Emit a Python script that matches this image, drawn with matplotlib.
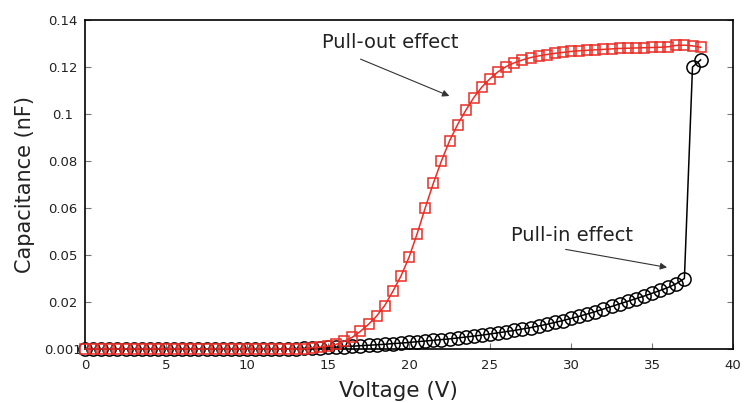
import numpy as np
import matplotlib.pyplot as plt

# voltage grid (V)
v_in = np.arange(0, 38.01, 0.5)
v_out = np.arange(0, 38.01, 0.5)

# pull-in sweep (black circles), capacitance in nF
c_in = [0]*26 + [
    0.0002, 0.0003, 0.0004, 0.0005, 0.0007, 0.0008, 0.0010, 0.0012, 0.0014, 0.0016,
    0.0018, 0.0020, 0.0023, 0.0025, 0.0028, 0.0031, 0.0034, 0.0037, 0.0040, 0.0043,
    0.0047, 0.0051, 0.0055, 0.0059, 0.0064, 0.0069, 0.0074, 0.0079, 0.0085, 0.0091,
    0.0098, 0.0105, 0.0113, 0.0121, 0.0130, 0.0139, 0.0149, 0.0159, 0.0170, 0.0181,
    0.0192, 0.0203, 0.0214, 0.0225, 0.0237, 0.0249, 0.0262, 0.0278, 0.0300,
    0.1200, 0.1230]

# pull-out sweep (red squares)
c_out = [0]*28 + [
    0.0005, 0.0008, 0.0012, 0.0020, 0.0033, 0.0050, 0.0075, 0.0105, 0.0140, 0.0185,
    0.0245, 0.0310, 0.0390, 0.0490, 0.0600, 0.0705, 0.0800, 0.0885, 0.0955, 0.1015,
    0.1070, 0.1115, 0.1150, 0.1180, 0.1202, 0.1218, 0.1230, 0.1240, 0.1247, 0.1253,
    0.1258, 0.1262, 0.1266, 0.1269, 0.1271, 0.1273, 0.1275, 0.1277, 0.1279, 0.1280,
    0.1281, 0.1282, 0.1283, 0.1284, 0.1286, 0.1292, 0.1293, 0.1290, 0.1284]

yticks = [0, 0.02, 0.04, 0.06, 0.08, 0.10, 0.12, 0.14]
ytick_labels = ['0.001', '0.02', '0.05', '0.06', '0.08', '0.1', '0.12', '0.14']
xticks = [0, 5, 10, 15, 20, 25, 30, 35, 40]

fig = plt.figure(figsize=(7.44, 4.03), dpi=100)
ax = fig.add_axes([85/744, 54/403, 648/744, 329/403])

ax.plot(v_in, c_in, '-o', color='black', mfc='none', mec='black', ms=9.5,
        mew=1.1, lw=1.1, clip_on=False, zorder=3)
ax.plot(v_out, c_out, '-s', color='#ea2e26', mfc='none', mec='#ea2e26', ms=7.5,
        mew=1.1, lw=1.1, clip_on=False, zorder=4)

ax.set_xlim(0, 40)
ax.set_ylim(0, 0.14)
ax.set_xticks(xticks)
ax.set_yticks(yticks)
ax.set_yticklabels(ytick_labels)
ax.tick_params(direction='in', length=4, color='#777777', labelsize=9.5,
               labelcolor='#222222', top=False, right=True)
ax.tick_params(axis='y', pad=16)
for lab in ax.get_yticklabels():
    lab.set_horizontalalignment('center')
ax.tick_params(axis='x', pad=7)
for s in ax.spines.values():
    s.set_linewidth(1.2)

ax.set_ylabel('Capacitance (nF)', fontsize=15, color='#222222', va='center')
ax.yaxis.set_label_coords(-0.093, 0.5)
ax.set_xlabel('Voltage (V)', fontsize=15.5, color='#222222', va='baseline')
ax.xaxis.set_label_coords(0.483, -0.146)

arrow = dict(arrowstyle='-|>', color='#333333', lw=0.8, mutation_scale=10)
ax.annotate('', xy=(22.65, 0.1072), xytext=(16.85, 0.1238), arrowprops=arrow)
ax.text(18.83, 0.1306, 'Pull-out effect', fontsize=14, color='#222222',
        ha='center', va='center')
ax.annotate('', xy=(36.1, 0.0345), xytext=(29.5, 0.0426), arrowprops=arrow)
ax.text(30.06, 0.0481, 'Pull-in effect', fontsize=14, color='#222222',
        ha='center', va='center')

fig.savefig('out.png', dpi=100)
